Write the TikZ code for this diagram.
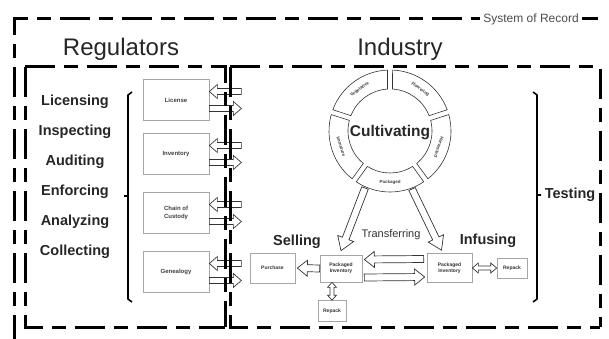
\documentclass[tikz,border=0pt]{standalone}
\usepackage{fontspec}
\setmainfont{Liberation Sans}
\usetikzlibrary{calc}
\tikzset{
  frame/.style={line width=3pt, dash pattern=on 30pt off 9pt on 14pt off 9pt},
  rbox/.style={draw=gray!70, fill=white, line width=0.7pt, align=center, inner sep=1pt,
    minimum width=66pt, minimum height=41pt, font=\fontsize{6}{7.5}\selectfont\bfseries, text=black!75},
  ibox/.style={draw=gray!70, fill=white, line width=0.7pt, align=center, inner sep=1pt,
    font=\fontsize{5}{5.8}\selectfont\bfseries, text=black!80},
  blk/.style={draw=gray!40!black, fill=white, line width=0.7pt, line join=miter},
  seg/.style={draw=gray!40!black, fill=white, line width=0.6pt},
  ringtxt/.style={font=\fontsize{4.5}{5}\selectfont\bfseries, text=black!75, inner sep=0pt},
  act/.style={font=\fontsize{14.5}{16}\selectfont\bfseries, text=black!85},
  headtxt/.style={font=\fontsize{24}{28}\selectfont, text=black!85},
  brk/.style={line width=1.6pt, line join=round},
  as/.store in=\as, aw/.store in=\aw, ah/.store in=\ah,
  as=3pt, aw=7pt, ah=8pt
}
\newcommand\blockarrow[3][]{%
  \begin{scope}[#1]
  \coordinate (ba) at (#2); \coordinate (bb) at (#3);
  \coordinate (bh) at ($(bb)!\ah!(ba)$);
  \draw[blk] ($(ba)!\as!90:(bb)$) -- ($(bh)!\as!90:(bb)$) -- ($(bh)!\aw!90:(bb)$) -- (bb)
    -- ($(bh)!\aw!-90:(bb)$) -- ($(bh)!\as!-90:(bb)$) -- ($(ba)!\as!-90:(bb)$) -- cycle;
  \end{scope}}
\newcommand\dblarrow[3][]{%
  \begin{scope}[#1]
  \coordinate (ba) at (#2); \coordinate (bb) at (#3);
  \coordinate (bg) at ($(ba)!\ah!(bb)$); \coordinate (bh) at ($(bb)!\ah!(ba)$);
  \draw[blk] (ba) -- ($(bg)!\aw!90:(bb)$) -- ($(bg)!\as!90:(bb)$) -- ($(bh)!\as!90:(bb)$)
    -- ($(bh)!\aw!90:(bb)$) -- (bb) -- ($(bh)!\aw!-90:(bb)$) -- ($(bh)!\as!-90:(bb)$)
    -- ($(bg)!\as!-90:(bb)$) -- ($(bg)!\aw!-90:(bb)$) -- cycle;
  \end{scope}}
\begin{document}
\begin{tikzpicture}[x=1pt,y=-1pt]
\useasboundingbox (0,0) rectangle (609,339);

\node[headtxt] (reg) at (121,49) {Regulators};
\node[headtxt] (ind) at (400,49) {Industry};
\node[font=\fontsize{12}{14}\selectfont, text=black!70, inner xsep=3pt] (sor) at (531,19) {System of Record};

\foreach \t [count=\i] in {Licensing,Inspecting,Auditing,Enforcing,Analyzing,Collecting}
  \node[act] (r\i) at (75,{72+30*\i}) {\t};
\draw[brk] (132,92) -- (128,95) -- (128,299) -- (132,302) (128,196) -- (124,196);

\node[rbox] (lic) at (176,100) {License};
\node[rbox] (inv) at (176,154) {Inventory};
\node[rbox] (coc) at (176,213) {Chain of\\Custody};
\node[rbox] (gen) at (176,272) {Genealogy};
\foreach \b in {lic,inv,coc,gen}{
  \blockarrow{[xshift=32pt,yshift=8.5pt]\b.east}{[yshift=8.5pt]\b.east}
  \blockarrow{[yshift=-8.5pt]\b.east}{[xshift=32pt,yshift=-8.5pt]\b.east}
}

\node[ibox, minimum width=45pt, minimum height=30pt] (purch) at (272.5,268) {Purchase};
\node[ibox, minimum width=42pt, minimum height=27pt] (pinvL) at (341,268.5) {Packaged\\Inventory};
\node[ibox, minimum width=28pt, minimum height=21pt] (repL) at (332,311) {Repack};
\node[ibox, minimum width=45pt, minimum height=29pt] (pinvR) at (449.5,268) {Packaged\\Inventory};
\node[ibox, minimum width=30pt, minimum height=20pt] (repR) at (512,268) {Repack};

\coordinate (pkgL) at (365,188);
\coordinate (pkgR) at (412,189);
\blockarrow[as=3.5pt,aw=8.5pt,ah=13pt]{pkgL}{[yshift=4pt]pinvL.north}
\blockarrow[as=3.5pt,aw=8.5pt,ah=13pt]{pkgR}{[xshift=-8pt,yshift=3pt]pinvR.north}

\begin{scope}[shift={(390,131)}, y=1pt]
  \foreach \a/\t/\r in {270/Packaged/0, 342/Harvested/-108, 54/Flowering/-36, 126/Vegetative/36, 198/Immature/-72}{
    \draw[seg] ({\a-36+2.4}:61) arc[start angle={\a-36+2.4}, end angle={\a+36-2.4}, radius=61]
      -- ({\a+36-3.4}:42) arc[start angle={\a+36-3.4}, end angle={\a-36+3.4}, radius=42] -- cycle;
    \node[ringtxt, rotate=\r] (s-\t) at (\a:51.5) {\t};
  }
\end{scope}
\node[act, font=\fontsize{15.5}{17}\selectfont\bfseries] (cult) at (390,133) {Cultivating};

\blockarrow[as=3.5pt,aw=8pt,ah=10pt]{pinvL.west}{[xshift=2pt]purch.east}
\blockarrow[as=3.5pt,aw=8pt,ah=10pt]{[xshift=-3pt,yshift=9pt]pinvR.west}{[xshift=2pt,yshift=9pt]pinvL.east}
\blockarrow[as=3.5pt,aw=8pt,ah=10pt]{[xshift=2pt,yshift=-9pt]pinvL.east}{[xshift=-2pt,yshift=-9pt]pinvR.west}
\dblarrow[as=2pt,aw=5pt,ah=6pt]{pinvR.east}{repR.west}
\dblarrow[as=2pt,aw=4.5pt,ah=5pt]{repL.north}{repL.north |- pinvL.south}

\node[act] (sell) at (297,242) {Selling};
\node[act] (infu) at (488,241) {Infusing};
\node[font=\fontsize{11}{13}\selectfont, text=black!80] (trans) at (391,235) {Transferring};
\node[act] (test) at (570,195) {Testing};
\draw[brk] (533,92) -- (537,95) -- (537,299) -- (533,302) (537,195) -- (541,195);

\draw[frame] (14,345) -- (14,19) -- (sor.west);
\draw[frame] (sor.east) -- (598,19);
\draw[frame] (25,67) -- (225,67) -- (225,327) (25,67) -- (25,327) -- (225,327);
\draw[frame] (230,67) -- (600,67) -- (600,327) (230,67) -- (230,327) -- (600,327);
\end{tikzpicture}
\end{document}
